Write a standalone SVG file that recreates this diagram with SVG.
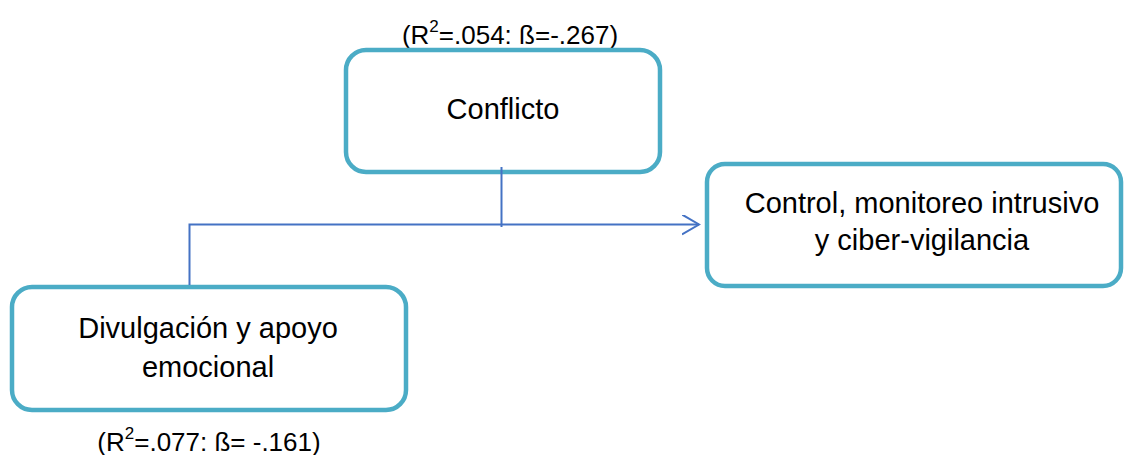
<svg xmlns="http://www.w3.org/2000/svg" width="1125" height="455" viewBox="0 0 1125 455">
<style>
.box{fill:#fff;stroke:#4BACC6;stroke-width:4.5}
.t{font-family:"Liberation Sans",Arial,sans-serif;font-size:29px;fill:#000;text-anchor:middle}
.lab{font-family:"Liberation Sans",Arial,sans-serif;font-size:26px;fill:#000;text-anchor:middle}
.sup{font-size:17px}
.c{fill:none;stroke:#4472C4;stroke-width:2}
</style>
<defs>
<marker id="arr" markerWidth="20" markerHeight="24" refX="17" refY="10" orient="auto" markerUnits="userSpaceOnUse">
<path d="M0,0 L17,10 L0,20" fill="none" stroke="#4472C4" stroke-width="2"/>
</marker>
</defs>
<rect width="1125" height="455" fill="#fff"/>
<g id="conflicto">
<text class="lab" x="510" y="44">(R<tspan class="sup" dy="-12">2</tspan><tspan dy="12">=.054: ß=-.267)</tspan></text>
<rect class="box" x="346" y="50" width="314" height="122" rx="20"/>
<text class="t" x="503" y="119">Conflicto</text>
</g>
<g id="control">
<rect class="box" x="707" y="164" width="414" height="122" rx="18"/>
<text class="t" x="922" y="213">Control, monitoreo intrusivo</text>
<text class="t" x="922" y="250">y ciber-vigilancia</text>
</g>
<g id="divulgacion">
<text class="lab" x="209" y="451">(R<tspan class="sup" dy="-12">2</tspan><tspan dy="12">=.077: ß= -.161)</tspan></text>
<rect class="box" x="12" y="287" width="394" height="123" rx="20"/>
<text class="t" x="208" y="338">Divulgación y apoyo</text>
<text class="t" x="208" y="377">emocional</text>
</g>
<g id="connectors">
<path class="c" d="M189.5,285 V224.5 H699" marker-end="url(#arr)"/>
<path class="c" d="M501.5,167 V227"/>
</g>
</svg>
